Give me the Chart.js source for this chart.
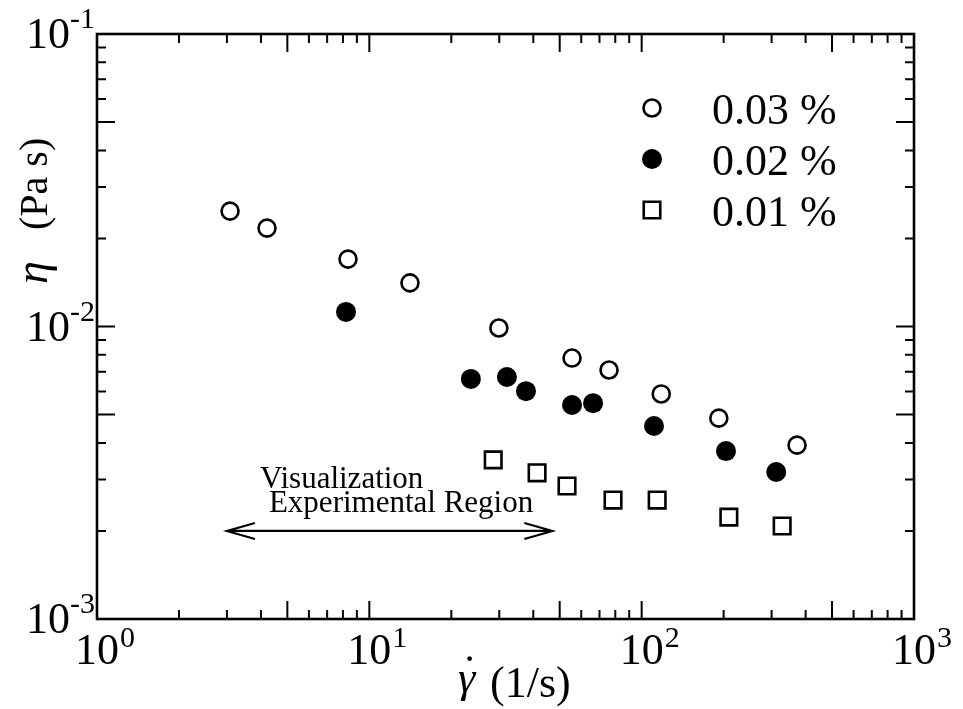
<!DOCTYPE html>
<html>
<head>
<meta charset="utf-8">
<title>Viscosity vs shear rate</title>
<script src="https://cdn.jsdelivr.net/npm/chart.js@4.4.1/dist/chart.umd.min.js"></script>
<style>
  html, body { margin:0; padding:0; background:#fff; }
  #wrap { width:963px; height:709px; position:relative; }
  #warm { position:absolute; left:0; top:0; opacity:0; pointer-events:none;
          font-family:'Liberation Serif', 'DejaVu Serif', serif; font-size:44px; }
</style>
</head>
<body>
<div id="wrap"><canvas id="chart" width="963" height="709"></canvas><span id="warm">0.03 % <i>&#951;&#947;</i></span></div>
<script>
// ---------- DATA ----------
const seriesLabels = ["0.03 %", "0.02 %", "0.01 %"];

const rate003 = [3.08, 4.21, 8.35, 14.1, 29.9, 55.5, 75.9, 118, 192, 372];
const eta003  = [0.0248, 0.0217, 0.0170, 0.0141, 0.00988, 0.00780, 0.00710, 0.00588, 0.00486, 0.00393];

const rate002 = [8.21, 23.6, 32.0, 37.6, 55.5, 66.3, 111, 204, 312];
const eta002  = [0.01122, 0.00662, 0.00672, 0.00601, 0.00539, 0.00547, 0.00457, 0.00375, 0.00318];

const rate001 = [28.5, 41.3, 53.2, 78.5, 114, 209, 328];
const eta001  = [0.00350, 0.00316, 0.00285, 0.00255, 0.00255, 0.00223, 0.00208];

const xTickValues = [1, 10, 100, 1000];
const xTickExps   = ["0", "1", "2", "3"];
const yTickValues = [0.001, 0.01, 0.1];
const yTickExps   = ["-3", "-2", "-1"];

const regionRange = [3, 47];     // arrow extent (1/s)
const regionEta   = 0.002;       // arrow height (Pa s)
const regionLines = ["Visualization", "Experimental Region"];

// ---------- helpers ----------
const SERIF = "'Liberation Serif', 'DejaVu Serif', 'Times New Roman', Times, serif";
function pts(xs, ys){ return xs.map((x,i)=>({x:x, y:ys[i]})); }

// log ticks 1..9 per decade, built on the scale's own range
function logTicks(scale){
  const out = [];
  const e0 = Math.floor(Math.log10(scale.min) + 1e-9), e1 = Math.ceil(Math.log10(scale.max) - 1e-9);
  for(let e=e0; e<=e1; e++){
    for(let m=1; m<=9; m++){
      const v = m * Math.pow(10, e);
      if(v >= scale.min*0.999 && v <= scale.max*1.001) out.push({value:v, m:m});
    }
  }
  scale.ticks = out;
}

const styleOf = [
  { pointStyle:"circle", radius:8.5, borderWidth:2.6, fill:"#fff" },
  { pointStyle:"circle", radius:10,  borderWidth:0,   fill:"#000" },
  { pointStyle:"rect",   radius:11.7, borderWidth:2.6, fill:"#fff" }
];

// ---------- frame, ticks, labels, legend, note ----------
const decorPlugin = {
  id:"decor",
  afterDraw(chart){
    const ctx = chart.ctx, a = chart.chartArea;
    const xs = chart.scales.x, ys = chart.scales.y;
    ctx.save();
    ctx.strokeStyle = "#000"; ctx.fillStyle = "#000";

    // ticks on all four sides, pointing in
    ctx.lineWidth = 2;
    ctx.beginPath();
    xs.ticks.forEach(t=>{
      const px = xs.getPixelForValue(t.value);
      const len = (t.m===1 || t.m===5) ? 18 : 9;
      ctx.moveTo(px, a.bottom); ctx.lineTo(px, a.bottom - len);
      ctx.moveTo(px, a.top);    ctx.lineTo(px, a.top + len);
    });
    ys.ticks.forEach(t=>{
      const py = ys.getPixelForValue(t.value);
      const len = (t.m===1 || t.m===5) ? 18 : 9;
      ctx.moveTo(a.left, py);  ctx.lineTo(a.left + len, py);
      ctx.moveTo(a.right, py); ctx.lineTo(a.right - len, py);
    });
    ctx.stroke();

    // frame
    ctx.lineWidth = 2.6;
    ctx.strokeRect(a.left, a.top, a.right - a.left, a.bottom - a.top);

    ctx.textBaseline = "alphabetic";
    ctx.textAlign = "left";

    // x tick labels: 10 with superscript
    xTickValues.forEach((v,i)=>{
      const px = xs.getPixelForValue(v);
      ctx.font = "44px " + SERIF;
      const w = ctx.measureText("10").width;
      ctx.fillText("10", px - w/2, a.bottom + 45);
      ctx.font = "30px " + SERIF;
      ctx.fillText(xTickExps[i], px + w/2 + 1, a.bottom + 28);
    });
    // y tick labels
    yTickValues.forEach((v,i)=>{
      const py = ys.getPixelForValue(v);
      ctx.font = "30px " + SERIF;
      const sw = ctx.measureText(yTickExps[i]).width;
      ctx.fillText(yTickExps[i], a.left - 2 - sw, py - 6);
      ctx.font = "44px " + SERIF;
      const w = ctx.measureText("10").width;
      ctx.fillText("10", a.left - 2 - sw - w, py + 14);
    });

    // y axis title, reads bottom to top
    ctx.save();
    ctx.translate(47, 0);
    ctx.rotate(-Math.PI/2);
    ctx.font = "italic 46px " + SERIF;
    ctx.fillText("\u03b7", -284, 0);
    ctx.font = "40px " + SERIF;
    ctx.fillText("(Pa s)", -230, 0);
    ctx.restore();

    // x axis title: gamma with dot above
    ctx.font = "italic 44px " + SERIF;
    const gw = ctx.measureText("\u03b3").width;
    const gx = 458;
    ctx.fillText("\u03b3", gx, 692);
    ctx.font = "44px " + SERIF;
    const dw = ctx.measureText("\u02d9").width;
    ctx.fillText("\u02d9", gx + gw/2 - dw/2 + 3, 686);
    ctx.fillText("(1/s)", 490, 697);

    // legend
    const lx = 652, ly0 = 108, lstep = 51;
    seriesLabels.forEach((lab,i)=>{
      const st = styleOf[i], y = ly0 + i*lstep;
      ctx.fillStyle = st.fill; ctx.strokeStyle = "#000"; ctx.lineWidth = st.borderWidth;
      Chart.helpers.drawPoint(ctx, {pointStyle:st.pointStyle, radius:st.radius, rotation:0, borderWidth:st.borderWidth}, lx, y);
      ctx.fillStyle = "#000";
      ctx.font = "44px " + SERIF;
      ctx.fillText(lab, 712, y + 16);
    });

    // experimental region arrow
    const x0 = xs.getPixelForValue(regionRange[0]);
    const x1 = xs.getPixelForValue(regionRange[1]);
    const ay = ys.getPixelForValue(regionEta);
    ctx.strokeStyle = "#000"; ctx.lineWidth = 2.2;
    ctx.beginPath();
    ctx.moveTo(x0, ay); ctx.lineTo(x1, ay);
    ctx.moveTo(x0 + 28, ay - 8); ctx.lineTo(x0, ay); ctx.lineTo(x0 + 28, ay + 8);
    ctx.moveTo(x1 - 28, ay - 8); ctx.lineTo(x1, ay); ctx.lineTo(x1 - 28, ay + 8);
    ctx.stroke();
    ctx.font = "31px " + SERIF;
    ctx.fillText(regionLines[0], x0 + 33, ay - 43);
    ctx.fillText(regionLines[1], x0 + 42, ay - 19);

    ctx.restore();
  }
};

// ---------- chart ----------
const ds = [
  { label:seriesLabels[0], data:pts(rate003, eta003) },
  { label:seriesLabels[1], data:pts(rate002, eta002) },
  { label:seriesLabels[2], data:pts(rate001, eta001) }
].map((d,i)=>Object.assign(d, {
  pointStyle: styleOf[i].pointStyle,
  pointRadius: styleOf[i].radius,
  pointBorderWidth: styleOf[i].borderWidth,
  pointBackgroundColor: styleOf[i].fill,
  pointBorderColor: "#000",
  showLine: false
}));

const hiddenAxis = (min, max) => ({
  type:"logarithmic", min:min, max:max,
  grid:{ display:false, drawTicks:false },
  border:{ display:false },
  ticks:{ display:false, autoSkip:false },
  afterBuildTicks: logTicks
});

new Chart(document.getElementById("chart"), {
  type:"scatter",
  data:{ datasets: ds },
  options:{
    responsive:false,
    animation:false,
    devicePixelRatio:1,
    layout:{ padding:{ left:97, right:49, top:34, bottom:90 } },
    plugins:{ legend:{ display:false }, tooltip:{ enabled:false } },
    scales:{ x: hiddenAxis(1, 1000), y: hiddenAxis(0.001, 0.1) }
  },
  plugins:[decorPlugin]
});
</script>
</body>
</html>
